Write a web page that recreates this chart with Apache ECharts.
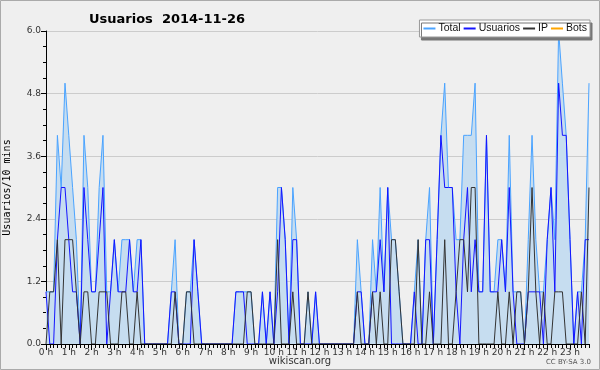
<!DOCTYPE html>
<html>
<head>
<meta charset="utf-8">
<script src="https://cdn.jsdelivr.net/npm/echarts@6/dist/echarts.min.js"></script>
<style>
  html, body { margin: 0; padding: 0; background: #efefef; }
  #chart { width: 600px; height: 370px; }
</style>
</head>
<body>
<div id="chart"></div>
<script>
// 10 minute slots, one row = 2 hours
var usuarios = [
  1,0,0,2,3,3,2,1,1,0,3,2,
  1,1,2,3,0,1,2,1,1,1,2,1,
  1,2,0,0,0,0,0,0,0,1,1,0,
  0,0,0,2,1,0,0,0,0,0,0,0,
  0,0,1,1,1,0,0,0,0,1,0,1,
  0,1,3,2,0,2,2,0,0,0,0,1,
  0,0,0,0,0,0,0,0,0,0,1,1,
  0,0,1,1,2,1,3,0,0,0,0,0,
  0,1,0,0,2,2,0,2,4,3,3,3,
  1,0,2,3,1,2,1,1,4,1,1,1,
  2,1,3,1,0,0,0,1,1,1,1,0,
  2,3,1,5,4,4,2,0,1,0,2,2
];
var ip = [
  0,1,1,2,0,2,2,2,1,0,1,1,
  0,0,1,1,1,0,0,0,1,1,0,0,
  1,0,0,0,0,0,0,0,0,0,1,0,
  0,1,1,0,0,0,0,0,0,0,0,0,
  0,0,0,0,0,1,1,0,0,0,0,0,
  0,2,0,0,0,1,0,0,0,1,0,0,
  0,0,0,0,0,0,0,0,0,0,1,0,
  0,0,1,0,1,0,0,2,2,1,0,0,
  0,0,2,0,0,1,0,0,0,2,0,0,
  1,2,2,1,3,3,0,0,0,0,0,1,
  0,0,1,0,1,1,0,1,3,1,0,1,
  0,0,1,1,1,0,0,0,0,1,0,3
];
var total = [
  1,1,1,4,3,5,4,3,2,0,4,3,
  1,1,3,4,1,1,2,1,2,2,2,1,
  2,2,0,0,0,0,0,0,0,1,2,0,
  0,1,1,2,1,0,0,0,0,0,0,0,
  0,0,1,1,1,1,1,0,0,1,0,1,
  0,3,3,2,0,3,2,0,0,1,0,1,
  0,0,0,0,0,0,0,0,0,0,2,1,
  0,0,2,1,3,1,3,2,2,1,0,0,
  0,1,2,0,2,3,0,2,4,5,3,3,
  2,2,4,4,4,5,1,1,4,1,1,2,
  2,1,4,1,1,1,0,2,4,2,1,1,
  2,3,2,6,5,4,2,0,1,1,2,5
];
var bots = [
  0,0,0,0,0,0,0,0,0,0,0,0,
  0,0,0,0,0,0,0,0,0,0,0,0,
  0,0,0,0,0,0,0,0,0,0,0,0,
  0,0,0,0,0,0,0,0,0,0,0,0,
  0,0,0,0,0,0,0,0,0,0,0,0,
  0,0,0,0,0,0,0,0,0,0,0,0,
  0,0,0,0,0,0,0,0,0,0,0,0,
  0,0,0,0,0,0,0,0,0,0,0,0,
  0,0,0,0,0,0,0,0,0,0,0,0,
  0,0,0,0,0,0,0,0,0,0,0,0,
  0,0,0,0,0,0,0,0,0,0,0,0,
  0,0,0,0,0,0,0,0,0,0,0,0
];
var seriesNames = ['Total', 'Usuarios', 'IP', 'Bots'];

// time slots 00:00 .. 23:50
var slots = [];
for (var h = 0; h < 24; h++) {
  for (var m = 0; m < 60; m += 10) {
    slots.push(h + ':' + (m < 10 ? '0' : '') + m);
  }
}

var font = 'DejaVu Sans';
var chart = echarts.init(document.getElementById('chart'));

var option = {
  backgroundColor: '#efefef',
  animation: false,
  title: {
    text: 'Usuarios  2014-11-26',
    left: 84,
    top: 8,
    textStyle: { fontFamily: font, fontSize: 13, fontWeight: 'bold', color: '#000' }
  },
  legend: {
    data: seriesNames,
    right: 10,
    top: 20,
    padding: [3, 3, 3, 4],
    itemGap: 3,
    itemWidth: 12,
    itemHeight: 2,
    icon: 'rect',
    backgroundColor: '#fff',
    borderColor: '#999',
    borderWidth: 1,
    shadowColor: '#777',
    shadowOffsetX: 2,
    shadowOffsetY: 3,
    shadowBlur: 0,
    textStyle: { fontFamily: 'Liberation Sans', fontSize: 10.5, color: '#111', padding: [0, 0, 0, -2] }
  },
  grid: { left: 46, right: 11, top: 31, bottom: 26, outerBoundsMode: 'none' },
  xAxis: [{
    type: 'category',
    data: slots,
    boundaryGap: false,
    z: 10,
    axisLine: { lineStyle: { color: '#000', width: 1 } },
    axisTick: { interval: 0, length: 4, lineStyle: { color: '#000' } },
    axisLabel: {
      interval: 5,
      margin: 4,
      fontFamily: font,
      fontSize: 9,
      color: '#333',
      formatter: function (v) { return parseInt(v, 10) + ' h'; }
    },
    splitLine: { show: false }
  }, {
    type: 'category',
    data: slots,
    boundaryGap: false,
    position: 'bottom',
    axisLine: { show: false },
    axisTick: { interval: 5, length: 6, lineStyle: { color: '#000' } },
    axisLabel: { show: false }
  }],
  yAxis: {
    type: 'value',
    min: 0,
    max: 6,
    interval: 1.2,
    name: 'Usuarios/10 mins',
    nameLocation: 'middle',
    nameGap: 34,
    nameTextStyle: { fontFamily: 'DejaVu Sans Mono', fontSize: 10, color: '#000' },
    axisLine: { show: true, lineStyle: { color: '#000', width: 1 } },
    axisTick: { show: true, length: 5, lineStyle: { color: '#000' } },
    minorTick: { show: true, splitNumber: 4, length: 3, lineStyle: { color: '#000' } },
    axisLabel: {
      margin: 5,
      fontFamily: font,
      fontSize: 9,
      color: '#333',
      formatter: function (v) { return v.toFixed(1); }
    },
    splitLine: { lineStyle: { color: '#cccccc', width: 1 } }
  },
  series: [{
    name: 'Total',
    type: 'line',
    data: total,
    symbol: 'none',
    color: '#4aa3ff',
    lineStyle: { width: 1, color: '#4aa3ff' },
    areaStyle: { color: '#c6ddf0', opacity: 1 }
  }, {
    name: 'Usuarios',
    type: 'line',
    data: usuarios,
    symbol: 'none',
    color: '#1414ff',
    lineStyle: { width: 1, color: '#1414ff' }
  }, {
    name: 'IP',
    type: 'line',
    data: ip,
    symbol: 'none',
    color: '#333333',
    lineStyle: { width: 1, color: '#333333' }
  }, {
    name: 'Bots',
    type: 'line',
    data: bots,
    symbol: 'none',
    color: '#ffa500',
    z: 1,
    lineStyle: { width: 1, color: '#ffa500' }
  }],
  graphic: [{
    type: 'text',
    left: 'center',
    top: 356,
    style: { text: 'wikiscan.org', font: '10px "DejaVu Sans"', fill: '#333' }
  }, {
    type: 'text',
    right: 9,
    top: 359,
    style: { text: 'CC BY-SA 3.0', font: '7px "DejaVu Sans"', fill: '#555' }
  }, {
    type: 'rect',
    shape: { x: 0.5, y: 0.5, width: 599, height: 369 },
    style: { fill: 'none', stroke: '#aaa', lineWidth: 1 },
    silent: true,
    z: 100
  }]
};

chart.setOption(option);
</script>
</body>
</html>
